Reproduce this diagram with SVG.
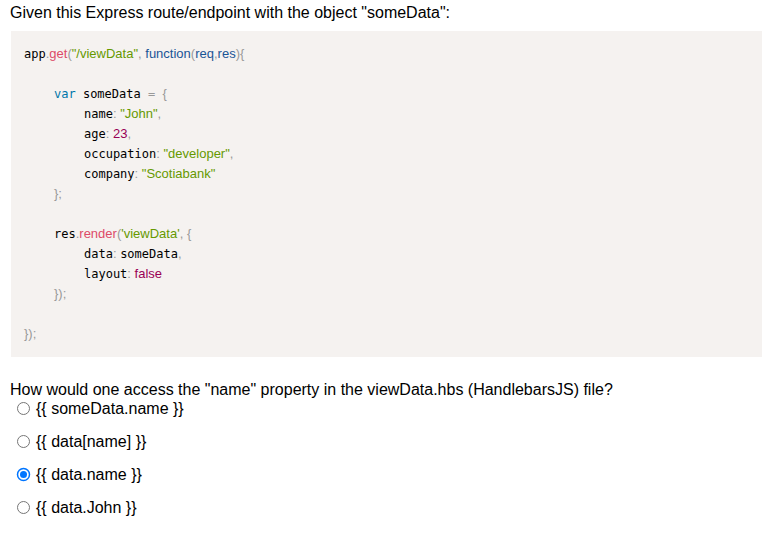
<svg xmlns="http://www.w3.org/2000/svg" width="762" height="543" viewBox="0 0 762 543">
<style>
.t{font-family:"Liberation Sans",Arial,sans-serif;font-size:16px;fill:#000}
.c{font-size:12px;font-family:"DejaVu Sans Mono","Liberation Mono",monospace;fill:#000}
.s{font-family:"Liberation Sans",Arial,sans-serif;font-size:13px}
.p{fill:#999}.f{fill:#dd4a68}.g{fill:#669900}.b{fill:#1a5596}.k{fill:#0077aa}.n{fill:#990055}
</style>
<rect width="762" height="543" fill="#fff"/>
<text class="t" x="10" y="18">Given this Express route/endpoint with the object "someData":</text>
<g id="code">
<rect x="11" y="31" width="751" height="326" fill="#f5f2f0"/>
<text class="c" x="24" y="58">app<tspan class="s p">.</tspan><tspan class="s f">get</tspan><tspan class="s p">(</tspan><tspan class="s g">"/viewData"</tspan><tspan class="s p">, </tspan><tspan class="s b">function</tspan><tspan class="s p">(</tspan><tspan class="s b">req</tspan><tspan class="s p">,</tspan><tspan class="s b">res</tspan><tspan class="s p">){</tspan></text>
<text class="c" x="54" y="98"><tspan class="k">var</tspan> someData <tspan class="p">= </tspan><tspan class="s p">{</tspan></text>
<text class="c" x="84" y="118">name<tspan class="s p">: </tspan><tspan class="s g">"John"</tspan><tspan class="s p">,</tspan></text>
<text class="c" x="84" y="138">age<tspan class="s p">: </tspan><tspan class="s n">23</tspan><tspan class="s p">,</tspan></text>
<text class="c" x="84" y="158">occupation<tspan class="s p">: </tspan><tspan class="s g">"developer"</tspan><tspan class="s p">,</tspan></text>
<text class="c" x="84" y="178">company<tspan class="s p">: </tspan><tspan class="s g">"Scotiabank"</tspan></text>
<text class="s p" x="54" y="198">};</text>
<text class="c" x="54" y="238">res<tspan class="s p">.</tspan><tspan class="s f">render</tspan><tspan class="s p">(</tspan><tspan class="s g">'viewData'</tspan><tspan class="s p">, {</tspan></text>
<text class="c" x="84" y="258">data<tspan class="s p">: </tspan>someData<tspan class="s p">,</tspan></text>
<text class="c" x="84" y="278">layout<tspan class="s p">: </tspan><tspan class="s n">false</tspan></text>
<text class="s p" x="54" y="298">});</text>
<text class="s p" x="24" y="338">});</text>
</g>
<text class="t" x="10" y="395">How would one access the "name" property in the viewData.hbs (HandlebarsJS) file?</text>
<g id="options">
<circle cx="23.5" cy="408.5" r="6" fill="#fff" stroke="#767676"/>
<text class="t" x="36" y="414">{{ someData.name }}</text>
<circle cx="23.5" cy="441.5" r="6" fill="#fff" stroke="#767676"/>
<text class="t" x="36" y="447">{{ data[name] }}</text>
<circle cx="23.5" cy="474.5" r="6" fill="#fff" stroke="#0075ff" stroke-width="1.5"/>
<circle cx="23.5" cy="474.5" r="3.5" fill="#0075ff"/>
<text class="t" x="36" y="480">{{ data.name }}</text>
<circle cx="23.5" cy="507.5" r="6" fill="#fff" stroke="#767676"/>
<text class="t" x="36" y="513">{{ data.John }}</text>
</g>
</svg>
